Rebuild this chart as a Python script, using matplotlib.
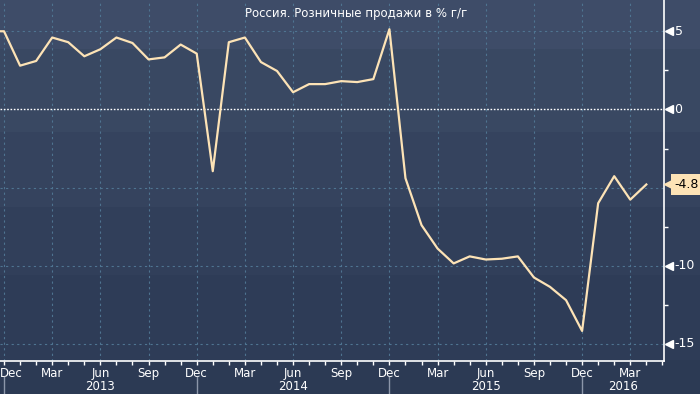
import numpy as np
import matplotlib
matplotlib.use('Agg')
import matplotlib.pyplot as plt
import matplotlib.transforms as mtransforms
from matplotlib.patches import Rectangle

# monthly retail sales, % y/y, Nov 2012 .. Apr 2016 (index 0 = Dec 2012)
months_idx = list(range(-1, 41))
sales = [5.0,
         5.0, 2.8, 3.1, 4.6, 4.3, 3.4, 3.85, 4.6, 4.25, 3.2, 3.33, 4.15,
         3.57, -3.95, 4.3, 4.6, 3.03, 2.46, 1.1, 1.62, 1.62, 1.81, 1.75, 1.94,
         5.13, -4.4, -7.4, -8.9, -9.85, -9.4, -9.6, -9.55, -9.4, -10.75, -11.35, -12.2,
         -14.17, -6.0, -4.27, -5.77, -4.8]

quarter_pos = list(range(0, 41, 3))
quarter_labels = (['Dec', 'Mar', 'Jun', 'Sep'] * 4)[:len(quarter_pos)]
year_labels = ['2013', '2014', '2015', '2016']
year_starts = [0, 12, 24, 36]

y_major = [5, 0, -5, -10, -15]
y_labels = ['5', '0', '', '-10', '-15']
y_minor = [2.5, -2.5, -7.5, -12.5]

last_value = '-4.8'

line_color = '#fde3b6'
grid_color = '#4f7491'
band_colors = ['#3e4c68', '#394862', '#35435e', '#313f5a', '#2e3c57', '#2c3a54']
band_edges = [0, 49, 132, 207, 275, 360, 394]

XMIN, XMAX = -0.25, 41.1
YMIN, YMAX = -16.06, 7.0

fig = plt.figure(figsize=(7, 3.94), dpi=100)

# background bands across whole figure
for i, c in enumerate(band_colors):
    top, bot = band_edges[i], band_edges[i + 1]
    fig.add_artist(Rectangle((0, 1 - bot / 394), 1, (bot - top) / 394,
                             transform=fig.transFigure, fc=c, ec='none', zorder=0))

ax = fig.add_axes([0, 1 - 360.5 / 394, 664 / 700, 360.5 / 394], zorder=1)
ax.set_facecolor('none')
ax.set_xlim(XMIN, XMAX)
ax.set_ylim(YMIN, YMAX)

for y in y_major:
    if y == 0:
        ax.axhline(0, color='white', lw=1, ls=(0, (1.2, 1.2)), zorder=2)
    else:
        ax.axhline(y, color=grid_color, lw=0.8, ls=(0, (2, 3)), zorder=1)
for x in quarter_pos:
    ax.axvline(x, color=grid_color, lw=0.8, ls=(0, (2, 3)), zorder=1)

ax.plot(months_idx, sales, color=line_color, lw=1.6, zorder=3)

for s in ['left', 'top']:
    ax.spines[s].set_visible(False)
for s in ['right', 'bottom']:
    ax.spines[s].set_color('white')
    ax.spines[s].set_linewidth(1.2)

# x axis: monthly minor ticks, quarterly labels
ax.set_xticks(quarter_pos)
ax.set_xticklabels(quarter_labels)
ax.set_xticks(range(0, 42), minor=True)
ax.tick_params(axis='x', which='both', direction='out', length=3, width=1,
               color='white', labelcolor='white', labelsize=8.5, pad=2)
first = ax.get_xticklabels()[0]
first.set_ha('left')
first.set_transform(first.get_transform() +
                    mtransforms.ScaledTranslation(-4 / 100, 0, fig.dpi_scale_trans))

# y axis on right
ax.yaxis.tick_right()
ax.set_yticks(y_minor)
ax.set_yticklabels([])
ax.tick_params(axis='y', which='both', direction='out', length=3, width=1, color='white')

ytrans = mtransforms.blended_transform_factory(ax.transAxes, ax.transData)
for y, lab in zip(y_major, y_labels):
    if not lab:
        continue
    ax.plot([1.0075], [y], marker='<', ms=6, color='white', mec='white',
            transform=ytrans, clip_on=False, zorder=5)
    ax.text(1.016, y, lab, transform=ytrans, color='white', fontsize=9,
            va='center', ha='left')

# last value tag
ax.plot([1.009], [sales[-1]], marker='<', ms=9, color=line_color, mec=line_color,
        transform=ytrans, clip_on=False, zorder=5)
ax.text(1.016, sales[-1], last_value, transform=ytrans, color='black', fontsize=9,
        va='center', ha='left', zorder=6,
        bbox=dict(boxstyle='square,pad=0.3', fc=line_color, ec='none'))

# year labels and separators
xtrans = mtransforms.blended_transform_factory(ax.transData, fig.transFigure)
bounds = year_starts + [XMAX]
for i, lab in enumerate(year_labels):
    ax.text((bounds[i] + bounds[i + 1]) / 2, 1 - 386 / 394, lab, transform=xtrans,
            color='white', fontsize=8.5, ha='center', va='center')
for x in year_starts:
    ax.plot([x, x], [1 - 377 / 394, 0], color='#8c96aa', lw=1,
            transform=xtrans, clip_on=False)

fig.text(356 / 700, 1 - 13 / 394, 'Россия. Розничные продажи в % г/г',
         color='white', fontsize=8.5, ha='center', va='center')

fig.savefig('out.png', dpi=100)
